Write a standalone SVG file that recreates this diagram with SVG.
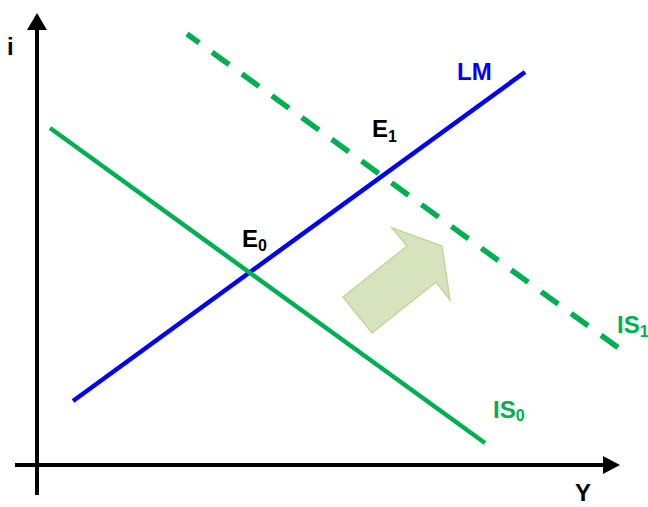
<svg xmlns="http://www.w3.org/2000/svg" width="648" height="507" viewBox="0 0 648 507">
<style>
.lbl{font-family:"Liberation Sans",Arial,sans-serif;font-weight:bold;font-size:24px}
.sub{font-size:16px}
.ax{stroke:#000;stroke-width:4;fill:none}
.g{fill:#00b050}
.b{fill:#0000ff}
</style>
<rect width="648" height="507" fill="#fff"/>
<g id="axes">
<line class="ax" x1="37" y1="495" x2="37" y2="26"/>
<polygon points="37,13 27,30 47,30" fill="#000"/>
<line class="ax" x1="15" y1="465" x2="606" y2="465"/>
<polygon points="620,465 603,456 603,474" fill="#000"/>
</g>
<g id="connectors">
<line id="LM" x1="73" y1="401" x2="525" y2="72" stroke="#0000ff" stroke-width="4.5"/>
<line id="IS0" x1="50" y1="128" x2="485" y2="443" stroke="#00b050" stroke-width="4.5"/>
<line id="IS1" x1="187" y1="34" x2="620" y2="349" stroke="#00b050" stroke-width="5.5" stroke-dasharray="21 16" stroke-dashoffset="6"/>
</g>
<g id="shift-arrow">
<polygon points="343,297 372,333 436,282 450,300 442,246 392,228 407,246" fill="#d6e3bc" stroke="#c3d69b" stroke-width="1.5"/>
</g>
<g id="labels">
<text class="lbl" x="7" y="55">i</text>
<text class="lbl b" x="457" y="80">LM</text>
<text class="lbl" x="372" y="137">E<tspan class="sub" dy="5">1</tspan></text>
<text class="lbl" x="242" y="247">E<tspan class="sub" dy="4">0</tspan></text>
<text class="lbl g" x="617" y="333">IS<tspan class="sub" dy="4">1</tspan></text>
<text class="lbl g" x="493" y="418">IS<tspan class="sub" dy="3">0</tspan></text>
<text class="lbl" x="575" y="501">Y</text>
</g>
</svg>
